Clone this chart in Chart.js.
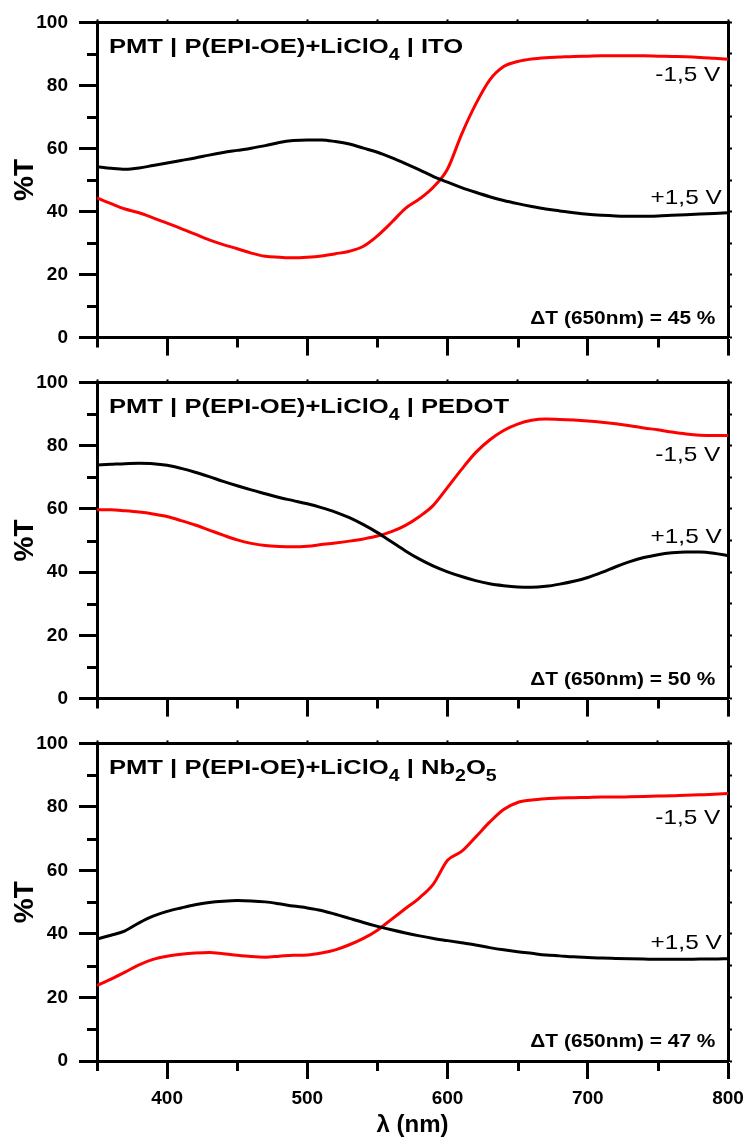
<!DOCTYPE html>
<html>
<head>
<meta charset="utf-8">
<script src="https://cdn.jsdelivr.net/npm/chart.js@4.4.0/dist/chart.umd.min.js"></script>
<style>
  html, body { margin: 0; padding: 0; background: #fff; }
  body { width: 746px; height: 1145px; position: relative; overflow: hidden; }
  canvas { position: absolute; left: 0; }
</style>
</head>
<body>
<canvas id="pIto" width="746" height="360" style="top:0px"></canvas>
<canvas id="pPedot" width="746" height="361" style="top:360px"></canvas>
<canvas id="pNb" width="746" height="424" style="top:721px"></canvas>
<script>
// wavelength grid (nm)
const wavelengths = [350, 360, 370, 380, 390, 400, 410, 420, 430, 440, 450, 460, 470, 480, 490,
  500, 510, 520, 530, 540, 550, 560, 570, 580, 590, 600, 610, 620, 630, 640, 650, 660, 670, 680,
  690, 700, 710, 720, 730, 740, 750, 760, 770, 780, 790, 800];

// %T, ITO
const itoPos = [54.2, 53.7, 53.4, 53.8, 54.6, 55.4, 56.2, 57.0, 57.9, 58.7, 59.4, 60.1, 60.9, 61.9, 62.5,
  62.7, 62.7, 62.2, 61.4, 60.1, 58.8, 57.1, 55.2, 53.2, 51.1, 49.3, 47.6, 46.1, 44.7, 43.5, 42.5, 41.6,
  40.8, 40.2, 39.6, 39.1, 38.8, 38.6, 38.5, 38.5, 38.6, 38.8, 39.0, 39.2, 39.4, 39.6];
const itoNeg = [44.3, 42.5, 40.8, 39.6, 38.0, 36.3, 34.6, 32.8, 31.0, 29.5, 28.2, 26.8, 25.8, 25.5, 25.3,
  25.5, 25.9, 26.6, 27.4, 29.0, 32.3, 36.5, 41.0, 44.0, 47.8, 53.5, 64.5, 74.0, 81.7, 86.0, 87.6, 88.4,
  88.8, 89.0, 89.2, 89.3, 89.4, 89.4, 89.4, 89.4, 89.3, 89.2, 89.1, 88.9, 88.6, 88.3];

// %T, PEDOT
const pedotPos = [73.9, 74.1, 74.3, 74.4, 74.3, 73.8, 72.8, 71.6, 70.2, 68.7, 67.3, 66.0, 64.8, 63.6, 62.6,
  61.6, 60.4, 59.0, 57.2, 55.0, 52.5, 49.6, 46.7, 44.1, 41.9, 40.1, 38.6, 37.3, 36.3, 35.7, 35.3, 35.2,
  35.5, 36.2, 37.1, 38.3, 39.9, 41.7, 43.3, 44.6, 45.5, 46.1, 46.4, 46.4, 46.0, 45.2];
const pedotNeg = [59.7, 59.7, 59.4, 59.0, 58.4, 57.6, 56.3, 54.9, 53.3, 51.7, 50.2, 49.1, 48.4, 48.1, 48.0,
  48.2, 48.7, 49.2, 49.8, 50.5, 51.4, 52.8, 54.8, 57.6, 61.2, 66.8, 72.5, 77.8, 81.8, 84.8, 86.8, 88.0,
  88.4, 88.3, 88.1, 87.8, 87.4, 86.9, 86.3, 85.6, 85.0, 84.3, 83.7, 83.3, 83.2, 83.2];

// %T, Nb2O5
const nbPos = [38.4, 39.6, 41.0, 43.5, 45.6, 47.1, 48.2, 49.2, 49.9, 50.3, 50.5, 50.4, 50.1, 49.5, 48.8,
  48.2, 47.4, 46.2, 44.9, 43.6, 42.4, 41.3, 40.3, 39.4, 38.6, 37.9, 37.2, 36.5, 35.7, 35.0, 34.4, 33.9,
  33.4, 33.1, 32.8, 32.6, 32.4, 32.3, 32.2, 32.1, 32.0, 32.0, 32.0, 32.1, 32.1, 32.2];
const nbNeg = [23.8, 25.8, 28.0, 30.3, 32.0, 33.0, 33.6, 34.0, 34.2, 33.8, 33.3, 32.9, 32.7, 33.0, 33.3,
  33.4, 34.0, 35.0, 36.6, 38.6, 41.2, 44.6, 48.0, 51.4, 55.8, 63.2, 66.0, 70.5, 75.2, 79.2, 81.4, 82.2,
  82.6, 82.8, 82.9, 83.0, 83.1, 83.1, 83.2, 83.3, 83.4, 83.5, 83.7, 83.8, 84.0, 84.2];

const xMinor = [350, 450, 550, 650, 750];
const yMinor = [10, 30, 50, 70, 90];

const FONT = '"Liberation Sans", Arial, sans-serif';
Chart.defaults.font.family = FONT;

const pts = (vals) => vals.map((v, i) => ({ x: wavelengths[i], y: v }));

// short minor ticks (Chart.js only draws one tick length)
const minorTicks = {
  id: 'minorTicks',
  afterDraw(chart) {
    const { ctx, chartArea: a, scales: { x, y } } = chart;
    ctx.save();
    ctx.strokeStyle = '#000';
    ctx.lineWidth = 3;
    ctx.beginPath();
    xMinor.forEach((v) => {
      const px = Math.round(x.getPixelForValue(v)) + 0.5;
      ctx.moveTo(px, a.bottom);
      ctx.lineTo(px, a.bottom + 10);
    });
    yMinor.forEach((v) => {
      const py = Math.round(y.getPixelForValue(v)) + 0.5;
      ctx.moveTo(a.left, py);
      ctx.lineTo(a.left - 10, py);
    });
    ctx.stroke();
    ctx.restore();
  }
};

// title, curve labels and deltaT text
const notes = {
  id: 'notes',
  afterDatasetsDraw(chart, args, o) {
    const { ctx, scales: { x, y } } = chart;
    ctx.fillStyle = '#000';
    ctx.textBaseline = 'alphabetic';

    ctx.save();
    ctx.translate(x.getPixelForValue(358.5), y.getPixelForValue(90.3));
    ctx.scale(1.22, 1);
    ctx.textAlign = 'left';
    let cx = 0;
    o.title.forEach(([t, sub]) => {
      ctx.font = (sub ? 'bold 16px ' : 'bold 21px ') + FONT;
      ctx.fillText(t, cx, sub ? 7 : 0);
      cx += ctx.measureText(t).width;
    });
    ctx.restore();

    const right = (txt, font, sx, xv, yv) => {
      ctx.save();
      ctx.translate(x.getPixelForValue(xv), y.getPixelForValue(yv));
      ctx.scale(sx, 1);
      ctx.font = font;
      ctx.textAlign = 'right';
      ctx.fillText(txt, 0, 0);
      ctx.restore();
    };
    right('-1,5 V', '21px ' + FONT, 1.16, 794.5, o.negY);
    right('+1,5 V', '21px ' + FONT, 1.16, 795.5, o.posY);
    right(o.delta, 'bold 18px ' + FONT, 1.16, 791, 4.3);
  }
};

function makePanel(id, pos, neg, note, bottom, padTop) {
  const tickFont = { size: 19, weight: 'bold' };
  return new Chart(document.getElementById(id), {
    type: 'line',
    data: {
      datasets: [
        { label: '+1,5 V', data: pts(pos), borderColor: '#000000', borderWidth: 3,
          pointRadius: 0, fill: false, cubicInterpolationMode: 'monotone' },
        { label: '-1,5 V', data: pts(neg), borderColor: '#ff0000', borderWidth: 3,
          pointRadius: 0, fill: false, cubicInterpolationMode: 'monotone' }
      ]
    },
    options: {
      responsive: false,
      animation: false,
      layout: { padding: { top: padTop, right: 14, left: 0, bottom: 0 } },
      plugins: { legend: { display: false }, tooltip: { enabled: false }, notes: note },
      scales: {
        x: {
          type: 'linear', position: 'bottom', min: 350, max: 800,
          ticks: { display: bottom, stepSize: 100, includeBounds: false, color: '#000',
            font: tickFont, padding: 8, maxRotation: 0 },
          grid: { drawOnChartArea: false, tickLength: 18, tickWidth: 3, tickColor: '#000' },
          border: { color: '#000', width: 3 },
          title: { display: bottom, text: 'λ (nm)', color: '#000',
            font: { size: 24, weight: 'bold' }, padding: { top: 0, bottom: 5 } },
          afterFit: (s) => {
            s.height = bottom ? 84 : 22;
            s.paddingLeft = 0;
            s.paddingRight = 0;
          }
        },
        xTop: {
          type: 'linear', position: 'top', min: 350, max: 800,
          ticks: { display: false, stepSize: 50 },
          grid: { drawOnChartArea: false, tickLength: 3, tickWidth: 2, tickColor: '#000' },
          border: { color: '#000', width: 3 },
          afterFit: (s) => { s.height = 3; }
        },
        y: {
          type: 'linear', position: 'left', min: 0, max: 100,
          ticks: { stepSize: 20, color: '#000', font: tickFont, padding: 11 },
          grid: { drawOnChartArea: false, tickLength: 18, tickWidth: 3, tickColor: '#000' },
          border: { color: '#000', width: 3 },
          title: { display: true, text: '%T', color: '#000',
            font: { size: 28, weight: 'bold' }, padding: { top: 8, bottom: 0 } },
          afterFit: (s) => { s.width = 97; }
        },
        yRight: {
          type: 'linear', position: 'right', min: 0, max: 100,
          ticks: { display: false, stepSize: 10 },
          grid: { drawOnChartArea: false, tickLength: 4, tickWidth: 2, tickColor: '#000' },
          border: { color: '#000', width: 3 },
          afterFit: (s) => { s.width = 4; }
        }
      }
    },
    plugins: [minorTicks, notes]
  });
}

makePanel('pIto', itoPos, itoNeg, {
  title: [['PMT | P(EPI-OE)+LiClO'], ['4', true], [' | ITO']],
  negY: 81.5, posY: 42.5, delta: 'ΔT (650nm) = 45 %'
}, false, 17);

makePanel('pPedot', pedotPos, pedotNeg, {
  title: [['PMT | P(EPI-OE)+LiClO'], ['4', true], [' | PEDOT']],
  negY: 75.2, posY: 49.1, delta: 'ΔT (650nm) = 50 %'
}, false, 16);

makePanel('pNb', nbPos, nbNeg, {
  title: [['PMT | P(EPI-OE)+LiClO'], ['4', true], [' | Nb'], ['2', true], ['O'], ['5', true]],
  negY: 74.6, posY: 35.3, delta: 'ΔT (650nm) = 47 %'
}, true, 17);
</script>
</body>
</html>
